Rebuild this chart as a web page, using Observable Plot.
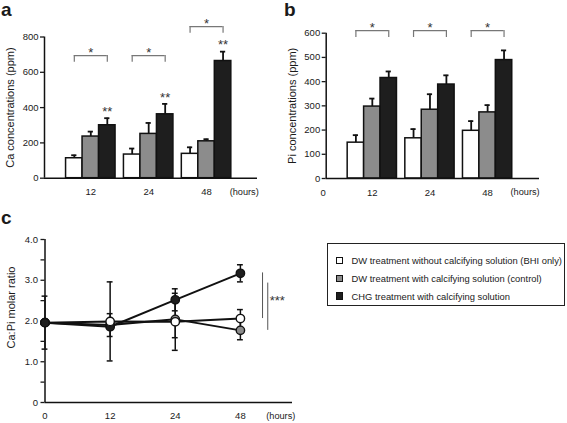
<!DOCTYPE html>
<html>
<head>
<meta charset="utf-8">
<script src="https://cdn.jsdelivr.net/npm/d3@7"></script>
<script src="https://cdn.jsdelivr.net/npm/@observablehq/plot@0.6"></script>
<style>
  body { margin: 0; background: #fff; }
  #fig { position: relative; width: 567px; height: 423px; overflow: hidden; background: #fff;
         font-family: "Liberation Sans", Arial, Helvetica, sans-serif; color: #1a1a1a; }
  .panel { position: absolute; }
  .plab { position: absolute; font-weight: bold; font-size: 19px; line-height: 19px; }
  #legend { position: absolute; left: 327px; top: 243px; width: 236px; height: 61px;
            border: 1.5px solid #222; box-sizing: content-box; padding-top: 0; }
  .lrow { position: absolute; left: 7.5px; height: 12px; display: flex; align-items: center;
          font-size: 9.4px; white-space: nowrap; }
  .lsw { width: 5.5px; height: 5.5px; border: 1.5px solid #111; margin-right: 8.5px; flex: none; }
</style>
</head>
<body>
<div id="fig">
  <div class="plab" style="left:1px;top:0px">a</div>
  <div class="plab" style="left:284px;top:0px">b</div>
  <div class="plab" style="left:1px;top:208px">c</div>
  <div id="legend"></div>
</div>
<script>
// ---------- data ----------
const barHours = ["12", "24", "48"];
const seriesNames = [
  "DW treatment without calcifying solution (BHI only)",
  "DW treatment with calcifying solution (control)",
  "CHG treatment with calcifying solution"
];
const seriesFill = ["#ffffff", "#8c8c8c", "#1e1e1e"];

// panel a: Ca (ppm)
const caWhite = [113, 134, 138];
const caWhiteErr = [17, 34, 37];
const caGray = [236, 251, 209];
const caGrayErr = [28, 62, 12];
const caBlack = [300, 362, 664];
const caBlackErr = [40, 59, 53];
const caBracketLevel = [695, 695, 859];
const caBracketLabel = ["*", "*", "*"];
const caBlackLabel = ["**", "**", "**"];
const caTicks = [0, 200, 400, 600, 800];

// panel b: Pi (ppm)
const piWhite = [148, 166, 197];
const piWhiteErr = [31, 38, 40];
const piGray = [297, 284, 273];
const piGrayErr = [33, 64, 30];
const piBlack = [415, 388, 489];
const piBlackErr = [27, 38, 40];
const piBracketLevel = [611, 611, 611];
const piBracketLabel = ["*", "*", "*"];
const piTicks = [0, 100, 200, 300, 400, 500, 600];

// panel c: Ca:Pi molar ratio
const lineHours = ["0", "12", "24", "48"];
const ratioWhite = [1.96, 1.99, 1.98, 2.06];
const ratioWhiteErr = [0.65, 0.97, 0.70, 0.22];
const ratioGray = [1.96, 1.90, 2.04, 1.77];
const ratioGrayErr = [0, 0.28, 0.45, 0.23];
const ratioBlack = [1.96, 1.86, 2.52, 3.17];
const ratioBlackErr = [0, 0, 0.27, 0.21];
const ratioTicks = [0, 1, 2, 3, 4];
const ratioMinorTicks = [0.5, 1.5, 2.5, 3.5];
const ratioSigLines = [[3.18, 2.06], [2.93, 1.77]];
const ratioSigLabel = "***";

// ---------- helpers ----------
const FONT = '"Liberation Sans", Arial, Helvetica, sans-serif';
const BW = 0.285, OFF = 0.8, CAP = 0.045;
const cx = d => d.g + OFF + (d.s - 1) * BW;

function barRows(means, errs) {
  const rows = [];
  means.forEach((m, s) => m.forEach((v, g) => rows.push({g, s, v, e: errs[s][g]})));
  return rows;
}

function barPlot({means, errs, ticks, ymax, xmax, title, bracketLevel, bracketLabel, blackLabel, zeroLabel,
                  width, height, ml, mr, mt, mb}) {
  const rows = barRows(means, errs);
  const tip = ymax * 0.048;
  const brackets = bracketLevel.map((lvl, g) => ({g, lvl, lab: bracketLabel[g]}));
  const blacks = rows.filter(d => d.s === 2);
  const marks = [
    Plot.axisY(ticks, {tickSize: 4, tickPadding: 2, label: null, fontSize: 9.5, strokeWidth: 1.3}),
    Plot.ruleX([0], {y1: 0, y2: ymax, strokeWidth: 1.5, stroke: "#111"}),
    Plot.ruleX(rows, {x: cx, y1: d => d.v, y2: d => d.v + d.e, strokeWidth: 1.8, stroke: "#111"}),
    Plot.ruleY(rows, {y: d => d.v + d.e, x1: d => cx(d) - CAP, x2: d => cx(d) + CAP, strokeWidth: 1.8, stroke: "#111"}),
    Plot.rect(rows, {x1: d => cx(d) - BW / 2, x2: d => cx(d) + BW / 2, y1: 0, y2: d => d.v,
                     fill: d => seriesFill[d.s], stroke: "#111", strokeWidth: 1.5}),
    Plot.ruleY([0], {x1: 0, x2: xmax, strokeWidth: 1.5, stroke: "#111"}),
    // brackets
    Plot.ruleY(brackets, {y: "lvl", x1: d => d.g + OFF - BW, x2: d => d.g + OFF + BW, stroke: "#777", strokeWidth: 1.2}),
    Plot.ruleX(brackets, {x: d => d.g + OFF - BW, y1: "lvl", y2: d => d.lvl - tip, stroke: "#777", strokeWidth: 1.2}),
    Plot.ruleX(brackets, {x: d => d.g + OFF + BW, y1: "lvl", y2: d => d.lvl - tip, stroke: "#777", strokeWidth: 1.2}),
    Plot.text(brackets, {x: d => d.g + OFF, y: "lvl", text: "lab", fontSize: 13, dy: -2.8, fill: "#333"}),
    // x labels
    Plot.text(barHours, {x: (d, i) => i + OFF, y: 0, text: d => d, dy: 14, fontSize: 9.5}),
    Plot.text(["(hours)"], {x: 3.45, y: 0, text: d => d, dy: 14, fontSize: 9.2}),
    Plot.text([title], {frameAnchor: "left", textAnchor: "middle", text: d => d, rotate: -90, dx: -34, fontSize: 11})
  ];
  if (blackLabel) marks.push(Plot.text(blacks, {x: cx, y: d => d.v + d.e, text: d => blackLabel[d.g], fontSize: 13, dy: -6.5, fill: "#333"}));
  if (zeroLabel) marks.push(Plot.text(["0"], {x: 0, y: 0, text: d => d, dy: 14, dx: -3, fontSize: 9.5}));
  return Plot.plot({
    width, height, marginLeft: ml, marginRight: mr, marginTop: mt, marginBottom: mb,
    style: {fontFamily: FONT, fontSize: "9.5px", background: "transparent", overflow: "visible", color: "#1a1a1a"},
    x: {domain: [0, xmax], axis: null},
    y: {domain: [0, ymax]},
    color: {type: "identity"},
    marks
  });
}

const fig = document.getElementById("fig");
function place(el, left, top) {
  const w = document.createElement("div");
  w.className = "panel";
  w.style.left = left + "px";
  w.style.top = top + "px";
  w.appendChild(el);
  fig.appendChild(w);
}

place(barPlot({
  means: [caWhite, caGray, caBlack], errs: [caWhiteErr, caGrayErr, caBlackErr],
  ticks: caTicks, ymax: 800, xmax: 3.68, title: "Ca concentrations (ppm)",
  bracketLevel: caBracketLevel, bracketLabel: caBracketLabel, blackLabel: caBlackLabel, zeroLabel: false,
  width: 283, height: 200, ml: 44, mr: 26, mt: 36.5, mb: 22.3
}), 0, 0);

place(barPlot({
  means: [piWhite, piGray, piBlack], errs: [piWhiteErr, piGrayErr, piBlackErr],
  ticks: piTicks, ymax: 600, xmax: 3.7, title: "Pi concentrations (ppm)",
  bracketLevel: piBracketLevel, bracketLabel: piBracketLabel, blackLabel: null, zeroLabel: true,
  width: 287, height: 200, ml: 45.7, mr: 28, mt: 32.7, mb: 22
}), 280, 0);

// panel c
const ratioRows = [];
const rMeans = [ratioWhite, ratioGray, ratioBlack], rErrs = [ratioWhiteErr, ratioGrayErr, ratioBlackErr];
rMeans.forEach((arr, s) => arr.forEach((v, i) => ratioRows.push({i, s, v, e: rErrs[s][i]})));
const errRows = ratioRows.filter(d => d.e > 0);
const dotOrder = d => d.i === 0 ? [0, 1, 2][d.s] : [2, 0, 1][d.s];
const dotRows = ratioRows.slice().sort((a, b) => a.i - b.i || dotOrder(a) - dotOrder(b));

const plotC = Plot.plot({
  width: 300, height: 223, marginLeft: 44.5, marginRight: 8, marginTop: 39, marginBottom: 21,
  style: {fontFamily: FONT, fontSize: "9.5px", background: "transparent", overflow: "visible", color: "#1a1a1a"},
  x: {domain: [0, 3.8], axis: null},
  y: {domain: [0, 4]},
  color: {type: "identity"},
  marks: [
    Plot.axisY(ratioTicks, {tickSize: 4, tickPadding: 3, label: null, fontSize: 9.5, strokeWidth: 1.3,
                            tickFormat: d => d === 0 ? "0" : d.toFixed(1)}),
    Plot.axisY(ratioMinorTicks, {tickSize: 4, label: null, strokeWidth: 1.3, tickFormat: () => ""}),
    Plot.ruleX([0], {y1: 0, y2: 4, strokeWidth: 1.5, stroke: "#111"}),
    Plot.ruleY([0], {x1: 0, x2: 3.8, strokeWidth: 1.5, stroke: "#111"}),
    Plot.ruleX(errRows, {x: "i", y1: d => d.v - d.e, y2: d => d.v + d.e, strokeWidth: 1.5, stroke: "#111"}),
    Plot.ruleY(errRows, {y: d => d.v + d.e, x1: d => d.i - CAP, x2: d => d.i + CAP, strokeWidth: 1.5, stroke: "#111"}),
    Plot.ruleY(errRows, {y: d => d.v - d.e, x1: d => d.i - CAP, x2: d => d.i + CAP, strokeWidth: 1.5, stroke: "#111"}),
    Plot.line(ratioRows, {x: "i", y: "v", z: "s", stroke: "#111", strokeWidth: 2}),
    Plot.dot(dotRows, {x: "i", y: "v", r: 4.2, fill: d => seriesFill[d.s], stroke: "#111", strokeWidth: 1.4}),
    Plot.ruleX(ratioSigLines, {x: (d, i) => 3.34 + i * 0.08, y1: d => d[0], y2: d => d[1], stroke: "#555", strokeWidth: 1}),
    Plot.text([ratioSigLabel], {x: 3.45, y: d3.mean(ratioSigLines.flat()), text: d => d, textAnchor: "start", fontSize: 13, fill: "#333"}),
    Plot.text(lineHours, {x: (d, i) => i, y: 0, text: d => d, dy: 13.7, fontSize: 9.5}),
    Plot.text(["(hours)"], {x: 3.62, y: 0, text: d => d, dy: 13.7, fontSize: 9.2}),
    Plot.text(["Ca:Pi molar ratio"], {frameAnchor: "left", textAnchor: "middle", text: d => d, rotate: -90, dx: -34, dy: -13.5, fontSize: 11})
  ]
});
place(plotC, 0, 200);

// legend
const legend = document.getElementById("legend");
seriesNames.forEach((name, s) => {
  const row = document.createElement("div");
  row.className = "lrow";
  row.style.top = (10.7 + s * 17.7) + "px";
  const sw = document.createElement("div");
  sw.className = "lsw";
  sw.style.background = seriesFill[s];
  const tx = document.createElement("span");
  tx.textContent = name;
  row.appendChild(sw);
  row.appendChild(tx);
  legend.appendChild(row);
});
</script>
</body>
</html>
